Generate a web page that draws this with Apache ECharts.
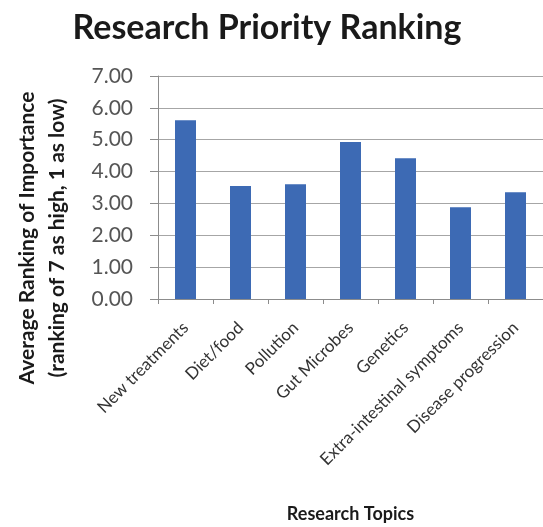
<!DOCTYPE html>
<html>
<head>
<meta charset="utf-8">
<script src="https://cdn.jsdelivr.net/npm/echarts@6/dist/echarts.min.js"></script>
<style>
html,body{margin:0;padding:0;background:#fff;}
#c{width:543px;height:527px;}
</style>
</head>
<body>
<div id="c"></div>
<script>
var categories = ['New treatments','Diet/food','Pollution','Gut Microbes','Genetics','Extra-intestinal symptoms','Disease progression'];
var values = [5.61, 3.55, 3.60, 4.93, 4.42, 2.88, 3.35];
var yTicks = [0,1,2,3,4,5,6,7];
var yName = 'Average Ranking of Importance\n(ranking of 7 as high, 1 as low)';

var chart = echarts.init(document.getElementById('c'));
chart.setOption({
  animation: false,
  backgroundColor: '#fff',
  title: {
    text: 'Research Priority Ranking',
    left: 262, textAlign: 'center', top: 6,
    textStyle: {fontFamily: 'Lato', fontWeight: 'bold', fontSize: 34, color: '#1a1a1a'}
  },
  graphic: [{
    type: 'text',
    x: 42, y: 238,
    rotation: Math.PI / 2,
    style: {
      text: yName,
      fontFamily: 'Lato', fontWeight: 'bold', fontSize: 21, lineHeight: 30,
      fill: '#1a1a1a', align: 'center', verticalAlign: 'middle'
    }
  }],
  grid: {left: 158, right: -3, top: 76, bottom: 228, containLabel: false},
  xAxis: {
    type: 'category',
    data: categories,
    name: 'Research Topics',
    nameLocation: 'middle',
    nameGap: 206,
    nameTextStyle: {fontFamily: 'Lato', fontWeight: 'bold', fontSize: 18, color: '#1a1a1a'},
    axisLine: {lineStyle: {color: '#8c8c8c', width: 1}},
    axisTick: {show: true, alignWithLabel: false, length: 5, lineStyle: {color: '#8c8c8c'}},
    axisLabel: {rotate: 45, fontFamily: 'Lato', fontSize: 17, color: '#333', margin: 26, interval: 0}
  },
  yAxis: {
    type: 'value',
    min: 0, max: 7, interval: 1,
    axisLine: {show: true, lineStyle: {color: '#8c8c8c', width: 1}},
    axisTick: {show: true, inside: false, length: 8, lineStyle: {color: '#8c8c8c'}},
    axisLabel: {fontFamily: 'Lato', fontSize: 21, color: '#555', margin: 25,
      formatter: function(v){ return v.toFixed(2); }},
    splitLine: {show: true, lineStyle: {color: '#a6a6a6', width: 1}}
  },
  series: [{
    type: 'bar',
    data: values,
    barWidth: 21,
    itemStyle: {color: '#3d6ab4'}
  }]
});
</script>
</body>
</html>
